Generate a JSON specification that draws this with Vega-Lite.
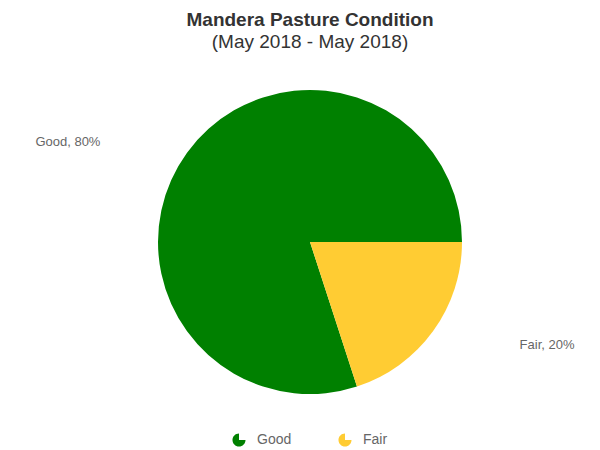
{
  "$schema": "https://vega.github.io/schema/vega-lite/v6.json",
  "autosize": "none",
  "padding": {"top": 62, "left": 0, "right": 0, "bottom": 28},
  "width": 620,
  "height": 360,
  "background": "white",
  "title": {
    "text": "Mandera Pasture Condition",
    "subtitle": "(May 2018 - May 2018)",
    "anchor": "middle",
    "font": "Liberation Sans",
    "fontSize": 19,
    "fontWeight": "bold",
    "color": "#333333",
    "subtitleFont": "Liberation Sans",
    "subtitleFontSize": 19,
    "subtitleColor": "#333333",
    "subtitlePadding": 3,
    "offset": 10
  },
  "data": {
    "values": [
      {"category": "Good", "value": 80, "label": "Good, 80%"},
      {"category": "Fair", "value": 20, "label": "Fair, 20%"}
    ]
  },
  "encoding": {
    "theta": {"field": "value", "type": "quantitative", "stack": true, "scale": {"range": [1.5707963, 7.8539816]}},
    "order": {"field": "category", "sort": "ascending"}
  },
  "layer": [
    {
      "mark": {"type": "arc", "outerRadius": 152, "stroke": null},
      "encoding": {
        "color": {
          "field": "category",
          "type": "nominal",
          "scale": {"domain": ["Good", "Fair"], "range": ["#008000", "#ffcc33"]},
          "legend": {
            "title": null,
            "orient": "none",
            "legendX": 232,
            "legendY": 371,
            "direction": "horizontal",
            "symbolType": "M0,0 L0,-1 A1,1 0 1,0 1,0 Z",
            "symbolSize": 170,
            "symbolStrokeWidth": 0,
            "labelFont": "Liberation Sans",
            "labelFontSize": 14,
            "labelColor": "#666666",
            "columnPadding": 46,
            "labelOffset": 11,
            "values": ["Good", "Fair"]
          }
        }
      }
    },
    {
      "mark": {"type": "text", "radius": 175, "align": "right", "baseline": "middle", "dx": -68, "dy": 3, "font": "Liberation Sans", "fontSize": 13, "fill": "#666666"},
      "encoding": {
        "text": {"condition": {"test": "datum.category === 'Good'", "field": "label"}, "value": ""}
      }
    },
    {
      "mark": {"type": "text", "radius": 175, "align": "left", "baseline": "middle", "dx": 68, "dy": 0, "font": "Liberation Sans", "fontSize": 13, "fill": "#666666"},
      "encoding": {
        "text": {"condition": {"test": "datum.category === 'Fair'", "field": "label"}, "value": ""}
      }
    }
  ]
}
